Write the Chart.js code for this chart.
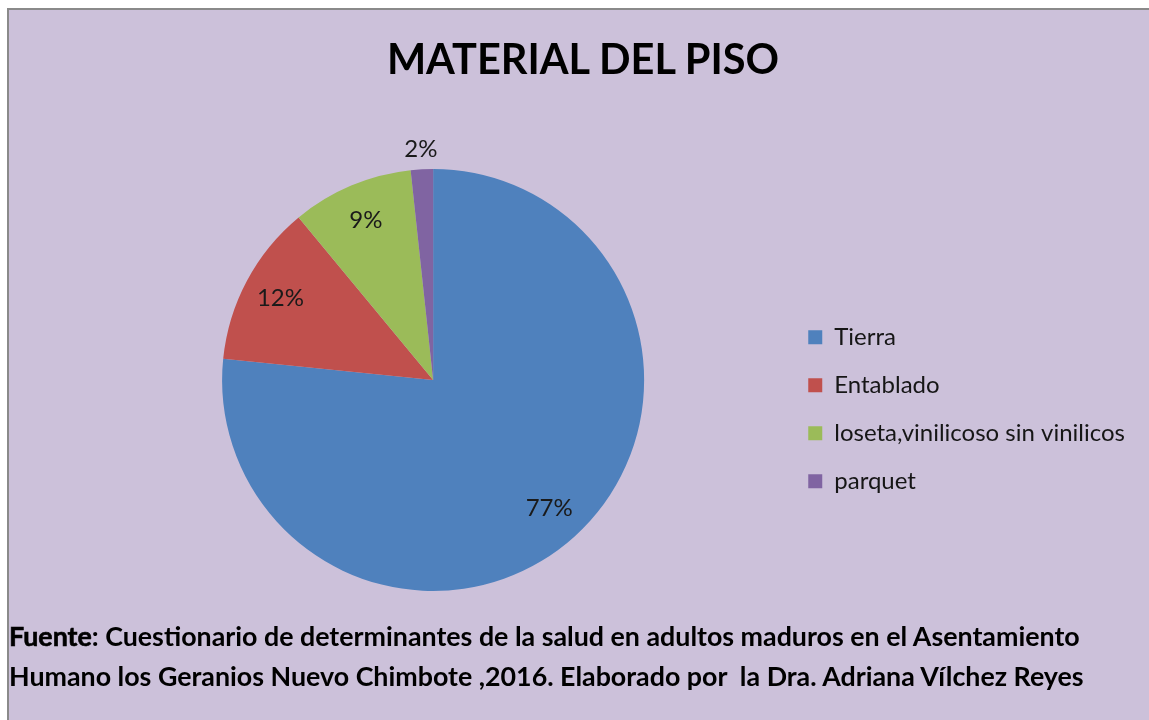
<!DOCTYPE html>
<html>
<head>
<meta charset="utf-8">
<script src="https://cdn.jsdelivr.net/npm/chart.js@4.4.1/dist/chart.umd.min.js"></script>
<style>
  body { margin: 0; background: #fff; }
  #box { position: absolute; left: 7px; top: 8px; width: 1142px; height: 712px; background: #ccc1da;
         border-left: 2px solid #8a8a8a; border-top: 2px solid #8a8a8a; overflow: hidden; }
  #box canvas { position: absolute; left: 0; top: 0; }
  #titulo { position: absolute; left: 274px; top: 24px; width: 600px; text-align: center;
            font-family: Lato, sans-serif; font-weight: bold; font-size: 41.5px; line-height: 1.2; color: #000; }
  #fuente { position: absolute; left: 0; top: 606px; font-family: Lato, sans-serif; font-weight: bold;
            font-size: 26.8px; line-height: 40px; color: #000; white-space: pre; }
  #fuente .f { -webkit-text-stroke: 0.6px #000; }
</style>
</head>
<body>
<div id="box">
  <canvas id="mychart" width="1142" height="712"></canvas>
  <div id="titulo">MATERIAL DEL PISO</div>
  <div id="fuente"><span class="f">Fuente</span>: Cuestionario de determinantes de la salud en adultos maduros en el Asentamiento
Humano los Geranios Nuevo Chimbote ,2016. Elaborado por  la Dra. Adriana Vílchez Reyes</div>
</div>
<script>
const categories = ['Tierra', 'Entablado', 'loseta,vinilicoso sin vinilicos', 'parquet'];
const percentages = [76.6, 12.4, 9.3, 1.7];
const pctLabels = ['77%', '12%', '9%', '2%'];
const colors = ['#4f81bd', '#c0504d', '#9bbb59', '#8064a2'];

// percentage text on each slice, small slices go outside
const sliceLabels = {
  id: 'sliceLabels',
  afterDatasetsDraw(chart) {
    const ctx = chart.ctx;
    const meta = chart.getDatasetMeta(0);
    ctx.save();
    ctx.font = '24px Lato';
    ctx.fillStyle = '#1a1a1a';
    ctx.textAlign = 'center';
    ctx.textBaseline = 'middle';
    meta.data.forEach((arc, i) => {
      const p = arc.getProps(['x', 'y', 'startAngle', 'endAngle', 'outerRadius'], true);
      const mid = (p.startAngle + p.endAngle) / 2;
      const r = percentages[i] < 5 ? p.outerRadius + 20 : p.outerRadius * 0.82;
      ctx.fillText(pctLabels[i], p.x + Math.cos(mid) * r, p.y + Math.sin(mid) * r);
    });
    ctx.restore();
  }
};

let mychart = document.getElementById('mychart').getContext('2d');
let obj = new Chart(mychart, {
  type: 'pie',
  data: {
    labels: categories,
    datasets: [{
      data: percentages,
      backgroundColor: colors,
      borderWidth: 0,
      hoverOffset: 0,
      radius: 211
    }]
  },
  options: {
    responsive: false,
    animation: false,
    layout: { padding: { left: 73, right: 16, top: 159, bottom: 131 } },
    plugins: {
      legend: {
        position: 'right',
        fullSize: false,
        title: { display: true, text: ' ', font: { size: 12 }, padding: { top: 22, bottom: 22 } },
        labels: {
          boxWidth: 14,
          boxHeight: 14,
          padding: 24,
          color: '#161616',
          font: { family: 'Lato', size: 24 }
        }
      },
      tooltip: { enabled: false }
    }
  },
  plugins: [sliceLabels]
});
</script>
</body>
</html>
